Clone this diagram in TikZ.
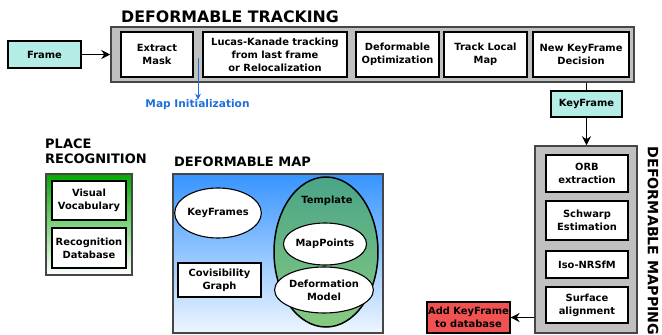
\documentclass[tikz,border=0pt]{standalone}
\usepackage{fontspec}
\setmainfont{DejaVu Sans}
\usetikzlibrary{arrows.meta,shapes.geometric}
\definecolor{cyanbox}{RGB}{180,236,230}
\definecolor{graybox}{RGB}{192,192,192}
\definecolor{grayedge}{RGB}{70,70,70}
\definecolor{redbox}{RGB}{240,82,82}
\definecolor{mapblue}{RGB}{55,148,255}
\definecolor{mapwhite}{RGB}{238,246,255}
\definecolor{placegreen}{RGB}{0,170,0}
\definecolor{tmptop}{RGB}{74,164,136}
\definecolor{tmpbot}{RGB}{135,202,128}
\definecolor{initblue}{RGB}{30,110,220}
\tikzset{
  x=1pt,y=-1pt,
  txt/.style={font=\fontsize{9.9}{13}\selectfont\bfseries, align=center, inner sep=0pt},
  wbox/.style 2 args={txt, draw=black, line width=1.1pt, fill=white, minimum width=#1, minimum height=#2},
  cbox/.style 2 args={wbox={#1}{#2}, fill=cyanbox},
  outer/.style 2 args={draw=grayedge, line width=1.5pt, fill=graybox, minimum width=#1, minimum height=#2, inner sep=0pt},
  ttl/.style={font=\fontsize{13}{15.5}\selectfont\bfseries, inner sep=0pt, align=left},
  ell/.style 2 args={ellipse, txt, draw=black, line width=1.1pt, fill=white, minimum width=#1, minimum height=#2},
  arr/.style={-{Stealth[length=9pt,width=9pt]}, line width=1.4pt},
}
\begin{document}
\begin{tikzpicture}
\useasboundingbox (0,0) rectangle (662,335);
% tracking
\node[ttl, font=\fontsize{15.8}{18}\selectfont\bfseries, anchor=west] (tracktitle) at (121,17) {DEFORMABLE TRACKING};
\node[outer={523}{55}] (track) at (372.5,54.5) {};
\node[cbox={73}{27}] (frame) at (44.5,54.5) {Frame};
\node[wbox={72}{45}] (extract) at (157,54.5) {Extract\\Mask};
\node[wbox={144}{45}] (lk) at (275,54.5) {Lucas-Kanade tracking\\from last frame\\or Relocalization};
\node[wbox={83}{45}] (defopt) at (397.5,54.5) {Deformable\\Optimization};
\node[wbox={83}{45}] (tlm) at (485.5,54.5) {Track Local\\Map};
\node[wbox={96}{45}] (nkd) at (581,54.5) {New KeyFrame\\Decision};
\draw[arr] (frame) -- (track.west |- frame.east);
\coordinate (initstart) at (198,58);
\node[txt, font=\fontsize{10.6}{13}\selectfont\bfseries, text=initblue] (mapinit) at (197.5,105) {Map Initialization};
\draw[initblue, line width=0.8pt, -{Stealth[length=6pt,width=6pt]}] (initstart) -- (initstart |- mapinit.north);
% keyframe
\node[cbox={71}{26}] (kf) at (586.5,104) {KeyFrame};
\draw[line width=1.4pt] (kf.north) -- (kf.north |- track.south);
% mapping
\node[outer={102}{187}] (mapping) at (586,239.5) {};
\node[wbox={82}{37}] (orb) at (587,173.5) {ORB\\extraction};
\node[wbox={82}{39}] (schwarp) at (587,220.5) {Schwarp\\Estimation};
\node[wbox={82}{27}] (iso) at (587,264.5) {Iso-NRSfM};
\node[wbox={82}{36}] (surf) at (587,305) {Surface\\alignment};
\draw[arr] (kf.south) -- (kf.south |- mapping.north);
\node[ttl, font=\fontsize{14.2}{16}\selectfont\bfseries, rotate=-90] (maptitle) at (653,241) {DEFORMABLE MAPPING};
\node[wbox={83}{31}, fill=redbox] (addkf) at (468.5,317.5) {Add KeyFrame\\to database};
\draw[arr] (mapping.west |- addkf.east) -- (addkf.east);
% place recognition
\node[ttl, anchor=north west] (placetitle) at (45,138.5) {PLACE\\RECOGNITION};
\node[draw=grayedge, line width=1.5pt, top color=placegreen, bottom color=white, minimum width=86, minimum height=101, inner sep=0pt] (place) at (89,224.5) {};
\node[wbox={74}{39}] (vv) at (89,200.5) {Visual\\Vocabulary};
\node[wbox={74}{40}] (rd) at (89,248) {Recognition\\Database};
% deformable map
\node[ttl, anchor=west] (maptitle2) at (174,162) {DEFORMABLE MAP};
\node[draw=grayedge, line width=1.5pt, top color=mapblue, bottom color=mapwhite, minimum width=210, minimum height=159, inner sep=0pt] (map) at (278,253.5) {};
\node[ell={78}{50}] (kfs) at (218,213) {KeyFrames};
\node[wbox={83}{34}] (covis) at (219.5,280) {Covisibility\\Graph};
\node[ellipse, draw=black, line width=1.5pt, top color=tmptop, bottom color=tmpbot, minimum width=104, minimum height=150, inner sep=0pt] (template) at (326,252) {};
\node[txt] (templtxt) at (327,201) {Template};
\node[ell={78}{42}] (mp) at (325,244) {MapPoints};
\node[ell={76}{46}] (dm) at (324,290) {Deformation\\Model};
\end{tikzpicture}
\end{document}
